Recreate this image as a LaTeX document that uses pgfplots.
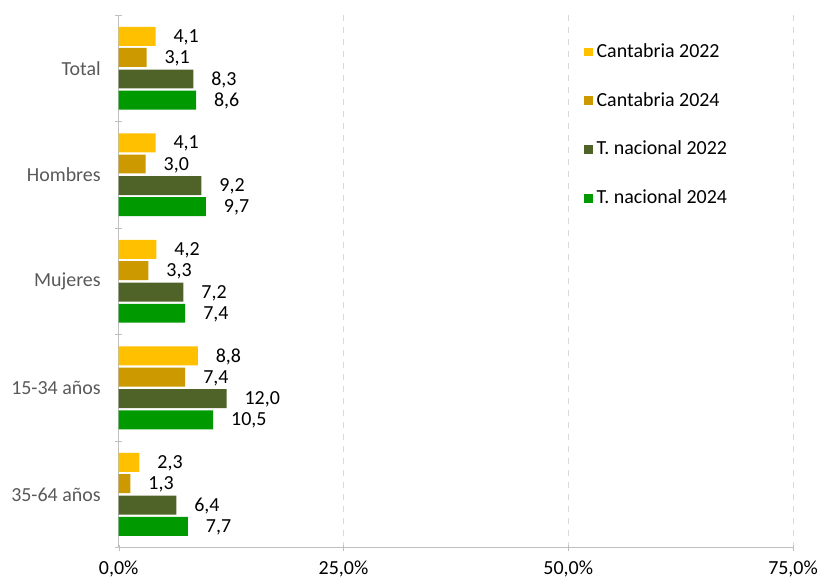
\documentclass[border=0pt]{standalone}
\usepackage{pgfplots}
\pgfplotsset{compat=1.18}
\usepackage{fontspec}
\setmainfont{Carlito}
\definecolor{c1}{HTML}{FFC000}
\definecolor{c2}{HTML}{CC9900}
\definecolor{c3}{HTML}{4F6228}
\definecolor{c4}{HTML}{009900}
\definecolor{axgray}{HTML}{BFBFBF}
\definecolor{labgray}{HTML}{595959}
\begin{document}
\begin{tikzpicture}
\path[use as bounding box] (-59.5pt,-15pt) rectangle (351pt,274.5pt);
\begin{axis}[
  at={(0,0)}, anchor=south west,
  width=338pt, height=267pt, scale only axis,
  xbar, bar width=9.5pt,
  xmin=0, xmax=75, ymin=-0.5, ymax=4.5,
  clip=false,
  xtick={0,25,50,75},
  xticklabels={{0,0\%},{25,0\%},{50,0\%},{75,0\%}},
  ytick={0,1,2,3,4},
  yticklabels={35-64 años,15-34 años,Mujeres,Hombres,Total},
  extra y ticks={-0.5,0.5,1.5,2.5,3.5,4.5},
  extra y tick labels={},
  ytick style={draw=none},
  extra y tick style={ytick style={draw=axgray}, grid=none, major tick length=3.5pt},
  xtick style={draw=axgray},
  tick align=outside,
  major tick length=3pt,
  axis x line=bottom, axis y line=left,
  axis line style={-, draw=axgray},
  xmajorgrids, major grid style={dashed, draw=gray!30},
  yticklabel style={text=labgray, font=\fontsize{10}{12}\selectfont, xshift=-4pt},
  xticklabel style={text=black, font=\fontsize{10}{12}\selectfont, yshift=-1.5pt},
  point meta=x,
  nodes near coords={\pgfmathprintnumber[fixed,fixed zerofill,precision=1,use comma,assume math mode=true]{\pgfplotspointmeta}},
  nodes near coords style={font=\fontsize{10}{12}\selectfont, text=black, xshift=5.5pt, yshift=-0.5pt},
  legend style={at={(0.68,0.962)}, anchor=north west, draw=none, fill=none,
    row sep=12pt, font=\fontsize{10}{12}\selectfont, text=black},
  legend cell align=left,
  myleg/.style={legend image code/.code={\fill[##1] (0pt,-2.25pt) rectangle (4.5pt,2.25pt);}},
]
\addplot[fill=c1, draw=none, bar shift=16pt, myleg] coordinates {(4.1,4) (4.1,3) (4.2,2) (8.8,1) (2.3,0)};
\addlegendentry{Cantabria 2022}
\addplot[fill=c2, draw=none, bar shift=5.4pt, myleg] coordinates {(3.1,4) (3.0,3) (3.3,2) (7.4,1) (1.3,0)};
\addlegendentry{Cantabria 2024}
\addplot[fill=c3, draw=none, bar shift=-5.4pt, myleg] coordinates {(8.3,4) (9.2,3) (7.2,2) (12.0,1) (6.4,0)};
\addlegendentry{T. nacional 2022}
\addplot[fill=c4, draw=none, bar shift=-16pt, myleg] coordinates {(8.6,4) (9.7,3) (7.4,2) (10.5,1) (7.7,0)};
\addlegendentry{T. nacional 2024}
\end{axis}
\end{tikzpicture}
\end{document}
